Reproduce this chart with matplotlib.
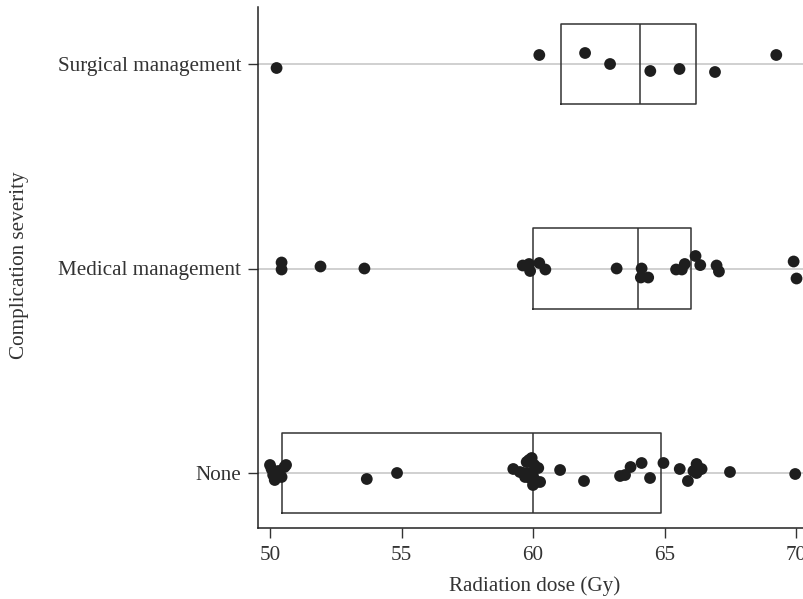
import matplotlib
matplotlib.use("Agg")
import matplotlib.pyplot as plt
import numpy as np

categories = ["None", "Medical management", "Surgical management"]

dose_none = [50.0, 50.06, 50.12, 50.18, 50.25, 50.32, 50.44, 50.55, 50.61,
             53.68, 54.83,
             59.25, 59.5, 59.63, 59.7, 59.76, 59.85, 59.89, 59.95, 60.0, 60.05,
             60.1, 60.14, 60.2, 60.27, 59.8, 60.0,
             61.03, 61.94, 63.31, 63.5, 63.71, 64.13, 64.45, 64.96, 65.58, 65.89,
             66.1, 66.22, 66.28, 66.41, 66.22, 67.49, 69.97]
jit_none = [-8, -4, 2, 7, 0, -2, 4, -6, -8,
            6, 0,
            -4, -1, 0, 4, -11, -13, 5, -15, 3, -8,
            8, 9, -5, 9, 0, 12,
            -3, 8, 3, 2, -6, -10, 5, -10, -4, 8,
            -2, -9, -3, -4, 0, -1, 1]

dose_med = [50.44, 50.44, 51.92, 53.59, 59.61, 59.85, 59.89, 60.24, 60.47,
            63.18, 64.13, 64.10, 64.38, 65.44, 65.66, 65.77, 66.18, 66.36,
            66.98, 67.07, 69.91, 70.02]
jit_med = [-6, 1, -2, 0, -3, -4.5, 2.5, -5.5, 1,
           0, 0, 9, 9, 1, 1, -4.5, -12.5, -3.4,
           -3, 3, -7, 10]

dose_surg = [50.25, 60.24, 61.98, 62.93, 64.46, 65.57, 66.92, 69.25]
jit_surg = [4, -9, -11, 0, 7, 5, 8, -9]

q1 = [50.45, 60.0, 61.05]
med = [60.0, 64.0, 64.07]
q3 = [64.85, 66.0, 66.2]

xticks = [50, 55, 60, 65, 70]

plt.rcParams['font.family'] = ['Liberation Serif', 'DejaVu Serif']

W, H = 804, 599
fig = plt.figure(figsize=(W / 100, H / 100), dpi=100)
ax_left, ax_right, ax_top, ax_bot = 258, 812, 7, 528
ax = fig.add_axes([ax_left / W, (H - ax_bot) / H, (ax_right - ax_left) / W, (ax_bot - ax_top) / H])

px_per_unit = 204.5
for i, c in enumerate(categories):
    ax.axhline(i, color="#c4c4c4", lw=1.1, zorder=0)

stats = []
for i in range(3):
    stats.append(dict(med=med[i], q1=q1[i], q3=q3[i], whislo=q1[i], whishi=q3[i], fliers=[]))
ax.bxp(stats, positions=[0, 1, 2], vert=False, widths=0.396, showcaps=False,
       showfliers=False,
       boxprops=dict(color="#333333", lw=1.1),
       medianprops=dict(color="#333333", lw=1.1),
       whiskerprops=dict(color="#333333", lw=1.1), zorder=2)

for i, (d, j) in enumerate([(dose_none, jit_none), (dose_med, jit_med), (dose_surg, jit_surg)]):
    y = i - np.array(j, dtype=float) / px_per_unit
    ax.scatter(d, y, s=72, color="#1e1e1e", edgecolors="none", zorder=3)

ppg = 26.3
ax.set_xlim(50 - (270 - ax_left) / ppg, 50 + (ax_right - 270) / ppg)
ax.set_ylim(-(ax_bot - 473) / px_per_unit, 2 + (473 - 2 * px_per_unit - ax_top) / px_per_unit)
ax.set_xticks(xticks)
ax.set_yticks([0, 1, 2])
ax.set_yticklabels(categories)
ax.tick_params(axis="both", direction="out", length=7, width=1, color="#333333",
               labelsize=15.2, labelcolor="#333333")
ax.tick_params(axis="y", pad=5)
ax.tick_params(axis="x", pad=6)
for s in ["top", "right"]:
    ax.spines[s].set_visible(False)
for s in ["left", "bottom"]:
    ax.spines[s].set_color("#222222")
    ax.spines[s].set_linewidth(1.1)

ax.set_xlabel("Radiation dose (Gy)", fontsize=15.2, color="#333333", labelpad=8)
fig.text(20 / W, 1 - 265 / H, "Complication severity", rotation=90, fontsize=15.2,
         color="#333333", ha="center", va="center")

fig.savefig("out.png", dpi=100)
